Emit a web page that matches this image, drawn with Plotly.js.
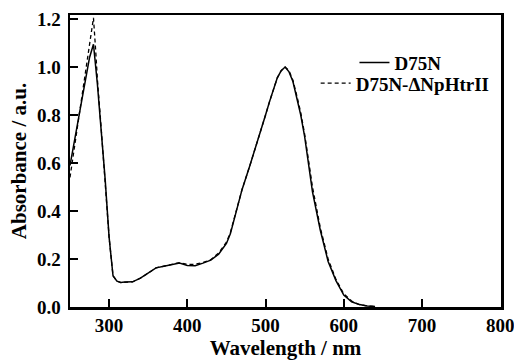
<!DOCTYPE html>
<html>
<head>
<meta charset="utf-8">
<script src="https://cdn.plot.ly/plotly-3.0.1.min.js"></script>
<style>html,body{margin:0;padding:0;background:#fff;}#chart{width:514px;height:363px;}</style>
</head>
<body>
<div id="chart"></div>
<script>
// D75N (solid)
const wlD75N = [250,255,260,265,270,275,280,285,290,295,300,305,310,315,320,330,340,350,360,370,380,390,400,410,420,430,440,450,455,460,470,480,490,500,505,510,515,520,525,530,535,540,545,550,560,570,580,590,600,610,620,630,640];
const absD75N = [0.59,0.68,0.77,0.86,0.95,1.04,1.095,0.93,0.73,0.53,0.29,0.13,0.108,0.102,0.104,0.105,0.12,0.14,0.163,0.17,0.178,0.183,0.173,0.172,0.183,0.195,0.22,0.265,0.305,0.365,0.49,0.59,0.69,0.80,0.855,0.91,0.955,0.985,1.0,0.98,0.94,0.87,0.80,0.71,0.48,0.32,0.19,0.11,0.05,0.022,0.01,0.004,0.002];
// D75N-ΔNpHtrII (dashed)
const wlDelta = [250,255,260,265,270,275,278,280,283,285,290,295,300,305,310,315,320,330,340,350,360,370,380,390,400,410,420,430,440,450,455,460,470,480,490,500,505,510,515,520,525,530,535,540,545,550,560,570,580,590,600,610,620,630,640];
const absDelta = [0.54,0.65,0.76,0.87,0.98,1.09,1.16,1.205,1.06,0.95,0.74,0.53,0.29,0.13,0.108,0.102,0.104,0.105,0.12,0.14,0.163,0.17,0.178,0.185,0.178,0.178,0.186,0.197,0.225,0.27,0.31,0.37,0.49,0.59,0.69,0.80,0.855,0.91,0.955,0.985,1.0,0.985,0.945,0.88,0.81,0.72,0.50,0.33,0.20,0.115,0.055,0.025,0.01,0.004,0.002];
const xTicks = [300,400,500,600,700,800];
const yTicks = [0.0,0.2,0.4,0.6,0.8,1.0,1.2];
const seriesNames = ['D75N','D75N-\u0394NpHtrII'];

const F = 'Liberation Serif, Times New Roman, serif';
const traces = [
  {x: wlD75N, y: absD75N, name: '<b>' + seriesNames[0] + '</b>', type: 'scatter', mode: 'lines',
   line: {color: '#000', width: 1.5}, legend: 'legend'},
  {x: wlDelta, y: absDelta, name: '<b>' + seriesNames[1] + '</b>', type: 'scatter', mode: 'lines',
   line: {color: '#000', width: 1.3, dash: '4px,3px'}, legend: 'legend2'}
];
const axisCommon = {
  showline: true, linewidth: 2.5, linecolor: '#000', mirror: true,
  ticks: 'inside', ticklen: 8, tickwidth: 2, tickcolor: '#000',
  showgrid: false, zeroline: false, ticklabeloverflow: 'allow',
  tickfont: {family: F, size: 19, color: '#000'}
};
const legendCommon = {xanchor: 'left', yanchor: 'middle', bgcolor: 'rgba(0,0,0,0)',
  font: {family: F, size: 19, color: '#000'}};
const layout = {
  width: 514, height: 363,
  margin: {l: 70, r: 13, t: 15, b: 56},
  paper_bgcolor: '#fff', plot_bgcolor: '#fff',
  font: {family: F, color: '#000'},
  xaxis: Object.assign({}, axisCommon, {
    range: [250, 801], tickvals: xTicks, ticktext: xTicks.map(v => '<b>' + v + '</b>'),
    title: {text: '<b>Wavelength / nm</b>', font: {family: F, size: 21, color: '#000'}, standoff: 5}
  }),
  yaxis: Object.assign({}, axisCommon, {
    range: [0, 1.217], tickvals: yTicks, ticktext: yTicks.map(v => '<b>' + v.toFixed(1) + '</b>'),
    ticklabelstandoff: 3,
    title: {text: '<b>Absorbance / a.u.</b>', font: {family: F, size: 21, color: '#000'}, standoff: 5}
  }),
  showlegend: true,
  legend: Object.assign({}, legendCommon, {x: 0.66, y: 0.837}),
  legend2: Object.assign({}, legendCommon, {x: 0.57, y: 0.766})
};
Plotly.newPlot('chart', traces, layout, {staticPlot: true, displayModeBar: false});
</script>
</body>
</html>
